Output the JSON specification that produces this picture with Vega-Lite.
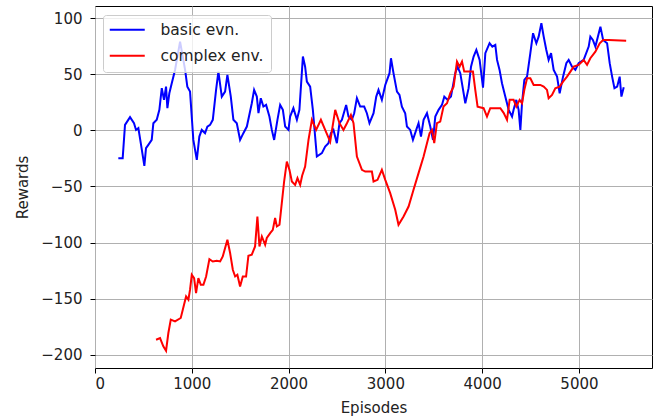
{
  "$schema": "https://vega.github.io/schema/vega-lite/v6.json",
  "width": 557,
  "height": 362,
  "autosize": "none",
  "padding": {"left": 95, "top": 6, "right": 3, "bottom": 52},
  "background": "white",
  "config": {
    "view": {"stroke": "black", "strokeWidth": 1},
    "axis": {
      "grid": true, "gridColor": "#b0b0b0", "gridWidth": 1, "domain": false,
      "tickColor": "black", "tickSize": 5, "tickWidth": 1,
      "labelFont": "DejaVu Sans", "labelFontSize": 15, "labelColor": "#222222",
      "titleFont": "DejaVu Sans", "titleFontSize": 15, "titleFontWeight": "normal", "titleColor": "#222222"
    },
    "legend": {
      "orient": "none", "legendX": 8, "legendY": 9,
      "fillColor": "rgba(255,255,255,0.8)", "strokeColor": "#cccccc", "cornerRadius": 3,
      "padding": 7, "rowPadding": 9,
      "symbolType": "M-1.33,0H4.5", "symbolSize": 144, "symbolStrokeWidth": 2,
      "labelOffset": 35, "labelFont": "DejaVu Sans", "labelFontSize": 15.5, "labelColor": "#222222"
    }
  },
  "data": {"values": [
    {"episode": 241, "reward": -24.8, "env": "basic evn."},
    {"episode": 286, "reward": -24.8, "env": "basic evn."},
    {"episode": 310, "reward": 4.9, "env": "basic evn."},
    {"episode": 362, "reward": 11.8, "env": "basic evn."},
    {"episode": 403, "reward": 6.4, "env": "basic evn."},
    {"episode": 424, "reward": 0.4, "env": "basic evn."},
    {"episode": 448, "reward": 2, "env": "basic evn."},
    {"episode": 473, "reward": -11.4, "env": "basic evn."},
    {"episode": 510, "reward": -31.6, "env": "basic evn."},
    {"episode": 527, "reward": -15.9, "env": "basic evn."},
    {"episode": 551, "reward": -12.9, "env": "basic evn."},
    {"episode": 586, "reward": -8.5, "env": "basic evn."},
    {"episode": 603, "reward": 6.4, "env": "basic evn."},
    {"episode": 638, "reward": 9.4, "env": "basic evn."},
    {"episode": 665, "reward": 18.3, "env": "basic evn."},
    {"episode": 690, "reward": 37.6, "env": "basic evn."},
    {"episode": 713, "reward": 27.2, "env": "basic evn."},
    {"episode": 734, "reward": 39, "env": "basic evn."},
    {"episode": 748, "reward": 19.8, "env": "basic evn."},
    {"episode": 768, "reward": 33.1, "env": "basic evn."},
    {"episode": 793, "reward": 42, "env": "basic evn."},
    {"episode": 827, "reward": 53.9, "env": "basic evn."},
    {"episode": 879, "reward": 79.1, "env": "basic evn."},
    {"episode": 931, "reward": 53.9, "env": "basic evn."},
    {"episode": 954, "reward": 39, "env": "basic evn."},
    {"episode": 982, "reward": 34.6, "env": "basic evn."},
    {"episode": 1016, "reward": -8.5, "env": "basic evn."},
    {"episode": 1052, "reward": -26.3, "env": "basic evn."},
    {"episode": 1078, "reward": -5.5, "env": "basic evn."},
    {"episode": 1103, "reward": 0.4, "env": "basic evn."},
    {"episode": 1137, "reward": -2.5, "env": "basic evn."},
    {"episode": 1161, "reward": 3.4, "env": "basic evn."},
    {"episode": 1189, "reward": 4.9, "env": "basic evn."},
    {"episode": 1217, "reward": 9.4, "env": "basic evn."},
    {"episode": 1251, "reward": 36.1, "env": "basic evn."},
    {"episode": 1275, "reward": 52.4, "env": "basic evn."},
    {"episode": 1310, "reward": 30.1, "env": "basic evn."},
    {"episode": 1344, "reward": 34.6, "env": "basic evn."},
    {"episode": 1368, "reward": 49.5, "env": "basic evn."},
    {"episode": 1403, "reward": 30.1, "env": "basic evn."},
    {"episode": 1430, "reward": 9.4, "env": "basic evn."},
    {"episode": 1465, "reward": 6.4, "env": "basic evn."},
    {"episode": 1499, "reward": -8.5, "env": "basic evn."},
    {"episode": 1533, "reward": -2.5, "env": "basic evn."},
    {"episode": 1569, "reward": 3.4, "env": "basic evn."},
    {"episode": 1620, "reward": 24.2, "env": "basic evn."},
    {"episode": 1644, "reward": 36.1, "env": "basic evn."},
    {"episode": 1672, "reward": 30.1, "env": "basic evn."},
    {"episode": 1689, "reward": 15.3, "env": "basic evn."},
    {"episode": 1713, "reward": 28.7, "env": "basic evn."},
    {"episode": 1740, "reward": 21.2, "env": "basic evn."},
    {"episode": 1768, "reward": 22.7, "env": "basic evn."},
    {"episode": 1802, "reward": 12.3, "env": "basic evn."},
    {"episode": 1827, "reward": 0.4, "env": "basic evn."},
    {"episode": 1851, "reward": -8.5, "env": "basic evn."},
    {"episode": 1885, "reward": 9.4, "env": "basic evn."},
    {"episode": 1913, "reward": 22.7, "env": "basic evn."},
    {"episode": 1941, "reward": 18.3, "env": "basic evn."},
    {"episode": 1965, "reward": 3.4, "env": "basic evn."},
    {"episode": 1999, "reward": 0.4, "env": "basic evn."},
    {"episode": 2016, "reward": 12.3, "env": "basic evn."},
    {"episode": 2050, "reward": 19.8, "env": "basic evn."},
    {"episode": 2086, "reward": 9.4, "env": "basic evn."},
    {"episode": 2112, "reward": 18.3, "env": "basic evn."},
    {"episode": 2148, "reward": 65.8, "env": "basic evn."},
    {"episode": 2171, "reward": 56.8, "env": "basic evn."},
    {"episode": 2189, "reward": 43.5, "env": "basic evn."},
    {"episode": 2223, "reward": 39, "env": "basic evn."},
    {"episode": 2251, "reward": 18.3, "env": "basic evn."},
    {"episode": 2292, "reward": -23.3, "env": "basic evn."},
    {"episode": 2344, "reward": -20.3, "env": "basic evn."},
    {"episode": 2378, "reward": -14.4, "env": "basic evn."},
    {"episode": 2412, "reward": -11.4, "env": "basic evn."},
    {"episode": 2437, "reward": -2.5, "env": "basic evn."},
    {"episode": 2464, "reward": 0.4, "env": "basic evn."},
    {"episode": 2499, "reward": -11.4, "env": "basic evn."},
    {"episode": 2526, "reward": 6.4, "env": "basic evn."},
    {"episode": 2551, "reward": 9.4, "env": "basic evn."},
    {"episode": 2595, "reward": 22.7, "env": "basic evn."},
    {"episode": 2619, "reward": 12.3, "env": "basic evn."},
    {"episode": 2654, "reward": 9.4, "env": "basic evn."},
    {"episode": 2678, "reward": 15.3, "env": "basic evn."},
    {"episode": 2706, "reward": 28.7, "env": "basic evn."},
    {"episode": 2740, "reward": 21.2, "env": "basic evn."},
    {"episode": 2781, "reward": 21.2, "env": "basic evn."},
    {"episode": 2809, "reward": 15.3, "env": "basic evn."},
    {"episode": 2836, "reward": 6.4, "env": "basic evn."},
    {"episode": 2878, "reward": 15.3, "env": "basic evn."},
    {"episode": 2906, "reward": 30.1, "env": "basic evn."},
    {"episode": 2929, "reward": 36.1, "env": "basic evn."},
    {"episode": 2964, "reward": 27.2, "env": "basic evn."},
    {"episode": 2999, "reward": 40.5, "env": "basic evn."},
    {"episode": 3043, "reward": 51, "env": "basic evn."},
    {"episode": 3058, "reward": 64.3, "env": "basic evn."},
    {"episode": 3084, "reward": 51, "env": "basic evn."},
    {"episode": 3120, "reward": 34.6, "env": "basic evn."},
    {"episode": 3146, "reward": 31.6, "env": "basic evn."},
    {"episode": 3171, "reward": 21.2, "env": "basic evn."},
    {"episode": 3205, "reward": 15.3, "env": "basic evn."},
    {"episode": 3223, "reward": 3.4, "env": "basic evn."},
    {"episode": 3257, "reward": 0.4, "env": "basic evn."},
    {"episode": 3285, "reward": -8.5, "env": "basic evn."},
    {"episode": 3319, "reward": 0.4, "env": "basic evn."},
    {"episode": 3343, "reward": 6.4, "env": "basic evn."},
    {"episode": 3368, "reward": -5.5, "env": "basic evn."},
    {"episode": 3395, "reward": 9.4, "env": "basic evn."},
    {"episode": 3430, "reward": 15.3, "env": "basic evn."},
    {"episode": 3464, "reward": 3.4, "env": "basic evn."},
    {"episode": 3492, "reward": -8.5, "env": "basic evn."},
    {"episode": 3516, "reward": 12.3, "env": "basic evn."},
    {"episode": 3550, "reward": 18.3, "env": "basic evn."},
    {"episode": 3585, "reward": 22.7, "env": "basic evn."},
    {"episode": 3609, "reward": 30.1, "env": "basic evn."},
    {"episode": 3643, "reward": 27.2, "env": "basic evn."},
    {"episode": 3678, "reward": 30.1, "env": "basic evn."},
    {"episode": 3722, "reward": 51, "env": "basic evn."},
    {"episode": 3746, "reward": 56.8, "env": "basic evn."},
    {"episode": 3774, "reward": 51, "env": "basic evn."},
    {"episode": 3826, "reward": 24.2, "env": "basic evn."},
    {"episode": 3860, "reward": 37.6, "env": "basic evn."},
    {"episode": 3885, "reward": 56.8, "env": "basic evn."},
    {"episode": 3912, "reward": 65.8, "env": "basic evn."},
    {"episode": 3940, "reward": 71.7, "env": "basic evn."},
    {"episode": 3974, "reward": 62.8, "env": "basic evn."},
    {"episode": 4009, "reward": 38, "env": "basic evn."},
    {"episode": 4033, "reward": 68.8, "env": "basic evn."},
    {"episode": 4077, "reward": 77.7, "env": "basic evn."},
    {"episode": 4105, "reward": 74.7, "env": "basic evn."},
    {"episode": 4136, "reward": 76.2, "env": "basic evn."},
    {"episode": 4154, "reward": 62.8, "env": "basic evn."},
    {"episode": 4180, "reward": 53.9, "env": "basic evn."},
    {"episode": 4205, "reward": 42, "env": "basic evn."},
    {"episode": 4239, "reward": 30.1, "env": "basic evn."},
    {"episode": 4274, "reward": 18.3, "env": "basic evn."},
    {"episode": 4309, "reward": 12.3, "env": "basic evn."},
    {"episode": 4325, "reward": 18.3, "env": "basic evn."},
    {"episode": 4353, "reward": 27.2, "env": "basic evn."},
    {"episode": 4377, "reward": 18.3, "env": "basic evn."},
    {"episode": 4395, "reward": 0.4, "env": "basic evn."},
    {"episode": 4412, "reward": 24.2, "env": "basic evn."},
    {"episode": 4436, "reward": 45, "env": "basic evn."},
    {"episode": 4464, "reward": 47.9, "env": "basic evn."},
    {"episode": 4498, "reward": 68.8, "env": "basic evn."},
    {"episode": 4526, "reward": 86.6, "env": "basic evn."},
    {"episode": 4560, "reward": 77.7, "env": "basic evn."},
    {"episode": 4584, "reward": 83.6, "env": "basic evn."},
    {"episode": 4612, "reward": 95.5, "env": "basic evn."},
    {"episode": 4636, "reward": 83.6, "env": "basic evn."},
    {"episode": 4663, "reward": 71.7, "env": "basic evn."},
    {"episode": 4687, "reward": 62.8, "env": "basic evn."},
    {"episode": 4712, "reward": 68.8, "env": "basic evn."},
    {"episode": 4739, "reward": 53.9, "env": "basic evn."},
    {"episode": 4774, "reward": 47.9, "env": "basic evn."},
    {"episode": 4801, "reward": 33.1, "env": "basic evn."},
    {"episode": 4836, "reward": 47.9, "env": "basic evn."},
    {"episode": 4870, "reward": 59.9, "env": "basic evn."},
    {"episode": 4894, "reward": 62.8, "env": "basic evn."},
    {"episode": 4929, "reward": 56.8, "env": "basic evn."},
    {"episode": 4963, "reward": 53.9, "env": "basic evn."},
    {"episode": 4997, "reward": 59.9, "env": "basic evn."},
    {"episode": 5049, "reward": 62.8, "env": "basic evn."},
    {"episode": 5101, "reward": 74.7, "env": "basic evn."},
    {"episode": 5118, "reward": 83.6, "env": "basic evn."},
    {"episode": 5144, "reward": 80.6, "env": "basic evn."},
    {"episode": 5170, "reward": 74.7, "env": "basic evn."},
    {"episode": 5222, "reward": 92.5, "env": "basic evn."},
    {"episode": 5250, "reward": 80.6, "env": "basic evn."},
    {"episode": 5291, "reward": 77.7, "env": "basic evn."},
    {"episode": 5318, "reward": 59.9, "env": "basic evn."},
    {"episode": 5343, "reward": 47.9, "env": "basic evn."},
    {"episode": 5367, "reward": 37.6, "env": "basic evn."},
    {"episode": 5395, "reward": 39, "env": "basic evn."},
    {"episode": 5421, "reward": 47.9, "env": "basic evn."},
    {"episode": 5439, "reward": 30.1, "env": "basic evn."},
    {"episode": 5463, "reward": 38.5, "env": "basic evn."},
    {"episode": 631, "reward": -186.7, "env": "complex env."},
    {"episode": 672, "reward": -185.2, "env": "complex env."},
    {"episode": 706, "reward": -192.6, "env": "complex env."},
    {"episode": 734, "reward": -196.5, "env": "complex env."},
    {"episode": 758, "reward": -180.7, "env": "complex env."},
    {"episode": 783, "reward": -168.8, "env": "complex env."},
    {"episode": 827, "reward": -170.4, "env": "complex env."},
    {"episode": 886, "reward": -167.3, "env": "complex env."},
    {"episode": 907, "reward": -159.9, "env": "complex env."},
    {"episode": 941, "reward": -148.1, "env": "complex env."},
    {"episode": 965, "reward": -151, "env": "complex env."},
    {"episode": 982, "reward": -142.1, "env": "complex env."},
    {"episode": 1000, "reward": -128.8, "env": "complex env."},
    {"episode": 1024, "reward": -131.7, "env": "complex env."},
    {"episode": 1044, "reward": -145.1, "env": "complex env."},
    {"episode": 1068, "reward": -131.7, "env": "complex env."},
    {"episode": 1093, "reward": -137.7, "env": "complex env."},
    {"episode": 1120, "reward": -137.7, "env": "complex env."},
    {"episode": 1148, "reward": -130.3, "env": "complex env."},
    {"episode": 1182, "reward": -114.8, "env": "complex env."},
    {"episode": 1217, "reward": -116.9, "env": "complex env."},
    {"episode": 1258, "reward": -116.3, "env": "complex env."},
    {"episode": 1293, "reward": -116.9, "env": "complex env."},
    {"episode": 1320, "reward": -112.4, "env": "complex env."},
    {"episode": 1368, "reward": -97.6, "env": "complex env."},
    {"episode": 1396, "reward": -109.4, "env": "complex env."},
    {"episode": 1424, "reward": -124.3, "env": "complex env."},
    {"episode": 1448, "reward": -130.3, "env": "complex env."},
    {"episode": 1471, "reward": -128.8, "env": "complex env."},
    {"episode": 1499, "reward": -139.2, "env": "complex env."},
    {"episode": 1527, "reward": -130.3, "env": "complex env."},
    {"episode": 1561, "reward": -130.3, "env": "complex env."},
    {"episode": 1585, "reward": -111.8, "env": "complex env."},
    {"episode": 1620, "reward": -110.9, "env": "complex env."},
    {"episode": 1654, "reward": -103.5, "env": "complex env."},
    {"episode": 1678, "reward": -76.8, "env": "complex env."},
    {"episode": 1699, "reward": -103.5, "env": "complex env."},
    {"episode": 1724, "reward": -94.6, "env": "complex env."},
    {"episode": 1758, "reward": -102, "env": "complex env."},
    {"episode": 1775, "reward": -96, "env": "complex env."},
    {"episode": 1810, "reward": -91.6, "env": "complex env."},
    {"episode": 1837, "reward": -88.7, "env": "complex env."},
    {"episode": 1861, "reward": -78.2, "env": "complex env."},
    {"episode": 1879, "reward": -85.7, "env": "complex env."},
    {"episode": 1906, "reward": -84.2, "env": "complex env."},
    {"episode": 1930, "reward": -64.9, "env": "complex env."},
    {"episode": 1954, "reward": -45.6, "env": "complex env."},
    {"episode": 1982, "reward": -27.8, "env": "complex env."},
    {"episode": 2009, "reward": -35.2, "env": "complex env."},
    {"episode": 2034, "reward": -45.6, "env": "complex env."},
    {"episode": 2068, "reward": -48.6, "env": "complex env."},
    {"episode": 2092, "reward": -42.6, "env": "complex env."},
    {"episode": 2120, "reward": -48.6, "env": "complex env."},
    {"episode": 2140, "reward": -40.5, "env": "complex env."},
    {"episode": 2171, "reward": -32.3, "env": "complex env."},
    {"episode": 2206, "reward": -8.5, "env": "complex env."},
    {"episode": 2241, "reward": 9.4, "env": "complex env."},
    {"episode": 2285, "reward": 0.4, "env": "complex env."},
    {"episode": 2334, "reward": 9.4, "env": "complex env."},
    {"episode": 2378, "reward": 0.4, "env": "complex env."},
    {"episode": 2430, "reward": -10, "env": "complex env."},
    {"episode": 2482, "reward": 18.3, "env": "complex env."},
    {"episode": 2526, "reward": 6.4, "env": "complex env."},
    {"episode": 2567, "reward": 0.4, "env": "complex env."},
    {"episode": 2603, "reward": 6.4, "env": "complex env."},
    {"episode": 2644, "reward": 13.8, "env": "complex env."},
    {"episode": 2671, "reward": 6.4, "env": "complex env."},
    {"episode": 2706, "reward": -23.3, "env": "complex env."},
    {"episode": 2758, "reward": -35.2, "env": "complex env."},
    {"episode": 2792, "reward": -36.7, "env": "complex env."},
    {"episode": 2826, "reward": -36.7, "env": "complex env."},
    {"episode": 2861, "reward": -36.7, "env": "complex env."},
    {"episode": 2878, "reward": -45.6, "env": "complex env."},
    {"episode": 2919, "reward": -44.1, "env": "complex env."},
    {"episode": 2964, "reward": -35.2, "env": "complex env."},
    {"episode": 2999, "reward": -44.1, "env": "complex env."},
    {"episode": 3050, "reward": -56, "env": "complex env."},
    {"episode": 3102, "reward": -70.8, "env": "complex env."},
    {"episode": 3136, "reward": -84.2, "env": "complex env."},
    {"episode": 3188, "reward": -76.8, "env": "complex env."},
    {"episode": 3240, "reward": -67.9, "env": "complex env."},
    {"episode": 3291, "reward": -53, "env": "complex env."},
    {"episode": 3343, "reward": -38.1, "env": "complex env."},
    {"episode": 3395, "reward": -23.3, "env": "complex env."},
    {"episode": 3430, "reward": -11.4, "env": "complex env."},
    {"episode": 3457, "reward": -2.5, "env": "complex env."},
    {"episode": 3482, "reward": 0.4, "env": "complex env."},
    {"episode": 3505, "reward": -11.4, "env": "complex env."},
    {"episode": 3533, "reward": 6.4, "env": "complex env."},
    {"episode": 3567, "reward": 7.8, "env": "complex env."},
    {"episode": 3601, "reward": 21.2, "env": "complex env."},
    {"episode": 3637, "reward": 24.2, "env": "complex env."},
    {"episode": 3671, "reward": 33.1, "env": "complex env."},
    {"episode": 3705, "reward": 39, "env": "complex env."},
    {"episode": 3740, "reward": 61.3, "env": "complex env."},
    {"episode": 3767, "reward": 56.8, "env": "complex env."},
    {"episode": 3792, "reward": 61.3, "env": "complex env."},
    {"episode": 3815, "reward": 52.4, "env": "complex env."},
    {"episode": 3860, "reward": 52.4, "env": "complex env."},
    {"episode": 3905, "reward": 52.4, "env": "complex env."},
    {"episode": 3929, "reward": 36.1, "env": "complex env."},
    {"episode": 3953, "reward": 21.2, "env": "complex env."},
    {"episode": 4015, "reward": 19.8, "env": "complex env."},
    {"episode": 4050, "reward": 12.3, "env": "complex env."},
    {"episode": 4084, "reward": 19.8, "env": "complex env."},
    {"episode": 4188, "reward": 19.8, "env": "complex env."},
    {"episode": 4222, "reward": 15.6, "env": "complex env."},
    {"episode": 4257, "reward": 9.4, "env": "complex env."},
    {"episode": 4284, "reward": 27.2, "env": "complex env."},
    {"episode": 4325, "reward": 27.2, "env": "complex env."},
    {"episode": 4353, "reward": 21.2, "env": "complex env."},
    {"episode": 4387, "reward": 27.2, "env": "complex env."},
    {"episode": 4412, "reward": 24.2, "env": "complex env."},
    {"episode": 4436, "reward": 36.1, "env": "complex env."},
    {"episode": 4464, "reward": 46.5, "env": "complex env."},
    {"episode": 4498, "reward": 46.5, "env": "complex env."},
    {"episode": 4532, "reward": 40.5, "env": "complex env."},
    {"episode": 4601, "reward": 40.5, "env": "complex env."},
    {"episode": 4636, "reward": 39, "env": "complex env."},
    {"episode": 4670, "reward": 36.1, "env": "complex env."},
    {"episode": 4687, "reward": 28.7, "env": "complex env."},
    {"episode": 4722, "reward": 31.6, "env": "complex env."},
    {"episode": 4756, "reward": 37.6, "env": "complex env."},
    {"episode": 4801, "reward": 39, "env": "complex env."},
    {"episode": 4836, "reward": 43.5, "env": "complex env."},
    {"episode": 4877, "reward": 47.9, "env": "complex env."},
    {"episode": 4912, "reward": 52.4, "env": "complex env."},
    {"episode": 4946, "reward": 56.8, "env": "complex env."},
    {"episode": 4997, "reward": 58.4, "env": "complex env."},
    {"episode": 5049, "reward": 62.8, "env": "complex env."},
    {"episode": 5084, "reward": 58.4, "env": "complex env."},
    {"episode": 5118, "reward": 64.3, "env": "complex env."},
    {"episode": 5170, "reward": 70.2, "env": "complex env."},
    {"episode": 5215, "reward": 77.7, "env": "complex env."},
    {"episode": 5250, "reward": 80.6, "env": "complex env."},
    {"episode": 5308, "reward": 80.6, "env": "complex env."},
    {"episode": 5488, "reward": 80, "env": "complex env."}
  ]},
  "mark": {"type": "line", "strokeWidth": 2, "clip": true},
  "encoding": {
    "x": {"field": "episode", "type": "quantitative", "title": "Episodes",
          "scale": {"domain": [0, 5755], "nice": false, "zero": false},
          "axis": {"values": [0, 1000, 2000, 3000, 4000, 5000], "format": "d", "labelPadding": 3, "titlePadding": 9}},
    "y": {"field": "reward", "type": "quantitative", "title": "Rewards",
          "scale": {"domain": [-211.9, 110.9], "nice": false, "zero": false},
          "axis": {"values": [-200, -150, -100, -50, 0, 50, 100], "format": "d", "labelPadding": 8, "titlePadding": 10}},
    "color": {"field": "env", "type": "nominal", "title": null,
              "scale": {"domain": ["basic evn.", "complex env."], "range": ["#0000ff", "#ff0000"]},
              "legend": {"title": null}}
  }
}
